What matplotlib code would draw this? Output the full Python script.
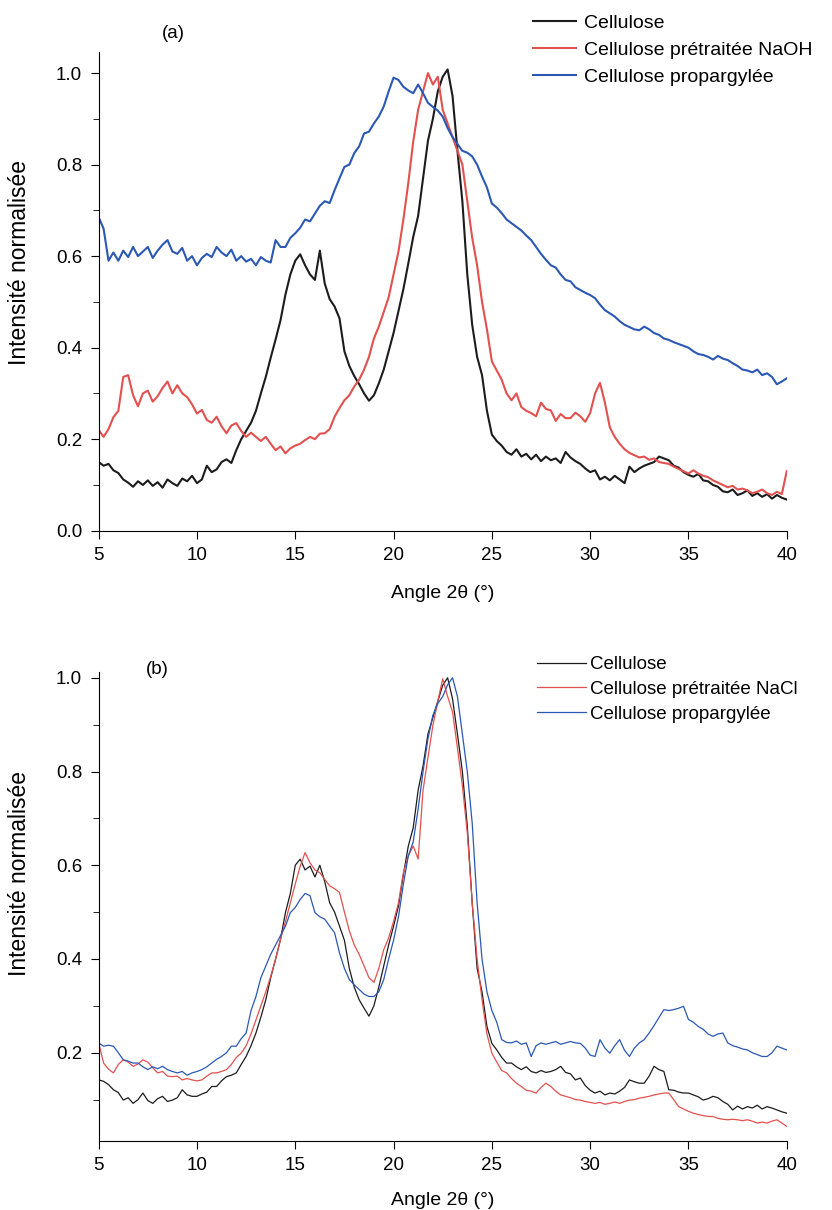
import numpy as np
import matplotlib
matplotlib.use("Agg")
import matplotlib.pyplot as plt
from matplotlib.ticker import MultipleLocator

plt.rcParams['font.family'] = ['Liberation Sans', 'DejaVu Sans']

# angle 2theta sampling (deg), one value every 0.25 deg
angle = np.arange(5, 40.001, 0.25)

# ---- panel (a): values, 4 per degree ----
a_cellulose = [
    0.150, 0.142, 0.146, 0.132,  0.126, 0.112, 0.105, 0.096,  0.108, 0.100, 0.110, 0.098,
    0.106, 0.094, 0.112, 0.104,  0.098, 0.114, 0.108, 0.120,  0.104, 0.112, 0.142, 0.128,
    0.134, 0.150, 0.156, 0.148,  0.176, 0.200, 0.218, 0.236,  0.262, 0.300, 0.336, 0.378,
    0.418, 0.460, 0.516, 0.560,  0.590, 0.604, 0.580, 0.560,  0.548, 0.612, 0.540, 0.506,
    0.490, 0.464, 0.392, 0.360,  0.338, 0.320, 0.300, 0.284,  0.296, 0.322, 0.352, 0.392,
    0.432, 0.480, 0.528, 0.584,  0.642, 0.688, 0.770, 0.852,  0.900, 0.960, 0.992, 1.008,
    0.950, 0.830, 0.720, 0.560,  0.450, 0.380, 0.340, 0.262,  0.210, 0.196, 0.186, 0.172,
    0.166, 0.178, 0.162, 0.168,  0.156, 0.166, 0.152, 0.162,  0.154, 0.158, 0.148, 0.172,
    0.160, 0.152, 0.146, 0.136,  0.128, 0.132, 0.112, 0.118,  0.110, 0.120, 0.112, 0.104,
    0.140, 0.128, 0.136, 0.142,  0.146, 0.150, 0.162, 0.158,  0.154, 0.142, 0.138, 0.128,
    0.122, 0.118, 0.124, 0.110,  0.108, 0.100, 0.096, 0.086,  0.084, 0.090, 0.078, 0.082,
    0.088, 0.076, 0.082, 0.074,  0.080, 0.070, 0.078, 0.072,
    0.068]
a_naoh = [
    0.220, 0.205, 0.222, 0.248,  0.262, 0.336, 0.340, 0.296,  0.272, 0.300, 0.306, 0.282,
    0.294, 0.312, 0.326, 0.300,  0.318, 0.300, 0.292, 0.276,  0.256, 0.264, 0.242, 0.236,
    0.249, 0.228, 0.213, 0.230,  0.235, 0.218, 0.205, 0.214,  0.205, 0.196, 0.205, 0.190,
    0.176, 0.184, 0.169, 0.180,  0.186, 0.190, 0.198, 0.205,  0.200, 0.212, 0.213, 0.222,
    0.249, 0.268, 0.285, 0.296,  0.315, 0.330, 0.352, 0.380,  0.420, 0.446, 0.478, 0.510,
    0.560, 0.610, 0.680, 0.760,  0.850, 0.920, 0.960, 1.000,  0.975, 0.992, 0.920, 0.890,
    0.860, 0.830, 0.800, 0.720,  0.640, 0.580, 0.500, 0.440,  0.370, 0.350, 0.330, 0.300,
    0.285, 0.300, 0.270, 0.262,  0.257, 0.250, 0.280, 0.266,  0.263, 0.240, 0.255, 0.246,
    0.246, 0.258, 0.250, 0.238,  0.257, 0.300, 0.323, 0.280,  0.226, 0.205, 0.190, 0.178,
    0.170, 0.165, 0.160, 0.162,  0.155, 0.158, 0.150, 0.148,  0.146, 0.140, 0.135, 0.130,
    0.125, 0.132, 0.125, 0.120,  0.117, 0.110, 0.105, 0.100,  0.095, 0.098, 0.090, 0.092,
    0.088, 0.082, 0.085, 0.090,  0.082, 0.078, 0.085, 0.080,
    0.130]
a_propargyl = [
    0.685, 0.660, 0.590, 0.608,  0.590, 0.612, 0.598, 0.620,  0.600, 0.610, 0.620, 0.596,
    0.612, 0.625, 0.635, 0.610,  0.605, 0.618, 0.590, 0.600,  0.580, 0.596, 0.605, 0.598,
    0.620, 0.608, 0.600, 0.614,  0.590, 0.600, 0.588, 0.594,  0.580, 0.598, 0.590, 0.586,
    0.635, 0.620, 0.620, 0.640,  0.650, 0.662, 0.680, 0.676,  0.693, 0.710, 0.720, 0.716,
    0.744, 0.770, 0.795, 0.800,  0.825, 0.840, 0.868, 0.872,  0.890, 0.905, 0.927, 0.960,
    0.990, 0.985, 0.970, 0.962,  0.956, 0.975, 0.956, 0.935,  0.926, 0.918, 0.905, 0.880,
    0.860, 0.845, 0.830, 0.826,  0.818, 0.800, 0.774, 0.750,  0.715, 0.706, 0.694, 0.680,
    0.672, 0.664, 0.656, 0.645,  0.635, 0.620, 0.605, 0.592,  0.580, 0.575, 0.560, 0.548,
    0.545, 0.532, 0.526, 0.520,  0.515, 0.508, 0.494, 0.482,  0.475, 0.468, 0.458, 0.450,
    0.445, 0.440, 0.438, 0.446,  0.440, 0.432, 0.428, 0.420,  0.417, 0.412, 0.408, 0.404,
    0.400, 0.392, 0.386, 0.384,  0.380, 0.374, 0.382, 0.376,  0.373, 0.366, 0.360, 0.352,
    0.350, 0.346, 0.352, 0.340,  0.344, 0.336, 0.320, 0.326,
    0.333]

# ---- panel (b) ----
b_cellulose = [
    0.142, 0.139, 0.132, 0.121,  0.115, 0.099, 0.104, 0.092,  0.100, 0.114, 0.098, 0.092,
    0.102, 0.107, 0.096, 0.099,  0.104, 0.121, 0.110, 0.107,  0.107, 0.112, 0.116, 0.128,
    0.128, 0.140, 0.149, 0.152,  0.157, 0.175, 0.192, 0.215,  0.242, 0.276, 0.313, 0.360,
    0.400, 0.442, 0.499, 0.540,  0.600, 0.613, 0.590, 0.598,  0.575, 0.600, 0.565, 0.520,
    0.500, 0.470, 0.440, 0.380,  0.340, 0.313, 0.295, 0.278,  0.300, 0.340, 0.385, 0.430,
    0.470, 0.513, 0.580, 0.641,  0.680, 0.760, 0.812, 0.880,  0.915, 0.950, 0.984, 1.000,
    0.955, 0.880, 0.800, 0.684,  0.520, 0.380, 0.330, 0.256,  0.220, 0.206, 0.190, 0.178,
    0.178, 0.170, 0.164, 0.170,  0.160, 0.157, 0.162, 0.158,  0.160, 0.164, 0.171, 0.158,
    0.155, 0.142, 0.146, 0.130,  0.120, 0.114, 0.118, 0.110,  0.114, 0.112, 0.118, 0.126,
    0.142, 0.138, 0.135, 0.135,  0.150, 0.171, 0.164, 0.160,  0.121, 0.120, 0.116, 0.114,
    0.114, 0.110, 0.106, 0.099,  0.102, 0.107, 0.104, 0.096,  0.090, 0.078, 0.086, 0.080,
    0.085, 0.082, 0.088, 0.080,  0.085, 0.082, 0.078, 0.074,
    0.071]
b_nacl = [
    0.221, 0.178, 0.165, 0.157,  0.175, 0.185, 0.180, 0.171,  0.176, 0.185, 0.180, 0.168,
    0.157, 0.160, 0.150, 0.149,  0.150, 0.142, 0.145, 0.142,  0.140, 0.142, 0.150, 0.157,
    0.157, 0.160, 0.164, 0.175,  0.190, 0.199, 0.215, 0.240,  0.270, 0.300, 0.330, 0.363,
    0.400, 0.442, 0.480, 0.520,  0.560, 0.598, 0.627, 0.605,  0.590, 0.584, 0.570, 0.556,
    0.550, 0.542, 0.500, 0.460,  0.430, 0.410, 0.385, 0.360,  0.350, 0.380, 0.420, 0.445,
    0.480, 0.520, 0.584, 0.620,  0.641, 0.613, 0.760, 0.830,  0.898, 0.950, 0.998, 0.960,
    0.927, 0.850, 0.770, 0.670,  0.520, 0.400, 0.313, 0.240,  0.199, 0.180, 0.162, 0.157,
    0.145, 0.135, 0.128, 0.120,  0.118, 0.114, 0.126, 0.135,  0.128, 0.118, 0.110, 0.107,
    0.104, 0.100, 0.099, 0.096,  0.094, 0.092, 0.094, 0.090,  0.092, 0.095, 0.092, 0.096,
    0.099, 0.100, 0.103, 0.105,  0.107, 0.110, 0.112, 0.114,  0.114, 0.100, 0.085, 0.080,
    0.075, 0.071, 0.068, 0.066,  0.064, 0.064, 0.060, 0.058,  0.057, 0.058, 0.057, 0.055,
    0.057, 0.054, 0.050, 0.052,  0.050, 0.054, 0.057, 0.050,
    0.043]
b_propargyl = [
    0.221, 0.214, 0.216, 0.214,  0.200, 0.185, 0.182, 0.178,  0.178, 0.170, 0.164, 0.170,
    0.166, 0.171, 0.164, 0.160,  0.157, 0.160, 0.152, 0.157,  0.160, 0.164, 0.170, 0.178,
    0.186, 0.192, 0.200, 0.214,  0.214, 0.230, 0.242, 0.290,  0.320, 0.360, 0.385, 0.410,
    0.430, 0.450, 0.470, 0.499,  0.510, 0.527, 0.540, 0.535,  0.499, 0.490, 0.485, 0.470,
    0.456, 0.413, 0.380, 0.356,  0.345, 0.335, 0.325, 0.320,  0.320, 0.330, 0.356, 0.400,
    0.440, 0.490, 0.560, 0.620,  0.650, 0.720, 0.800, 0.870,  0.920, 0.945, 0.960, 0.985,
    1.000, 0.960, 0.880, 0.800,  0.690, 0.520, 0.400, 0.330,  0.290, 0.265, 0.228, 0.222,
    0.221, 0.225, 0.218, 0.221,  0.192, 0.215, 0.221, 0.218,  0.221, 0.224, 0.218, 0.221,
    0.224, 0.221, 0.220, 0.210,  0.195, 0.192, 0.228, 0.210,  0.199, 0.215, 0.228, 0.205,
    0.192, 0.210, 0.221, 0.228,  0.242, 0.258, 0.275, 0.292,  0.290, 0.292, 0.295, 0.299,
    0.271, 0.265, 0.256, 0.250,  0.240, 0.235, 0.240, 0.242,  0.221, 0.215, 0.212, 0.208,
    0.206, 0.200, 0.196, 0.192,  0.192, 0.200, 0.214, 0.210,
    0.206]

labels_a = ['Cellulose', 'Cellulose prétraitée NaOH', 'Cellulose propargylée']
labels_b = ['Cellulose', 'Cellulose prétraitée NaCl', 'Cellulose propargylée']
colors = ['#1c1c1c', '#e2514f', '#2a58b4']


def style_axes(ax, ylim, xpad):
    ax.set_xlim(5, 40)
    ax.set_ylim(*ylim)
    ax.spines['top'].set_visible(False)
    ax.spines['right'].set_visible(False)
    ax.xaxis.set_major_locator(MultipleLocator(5))
    ax.yaxis.set_major_locator(MultipleLocator(0.2))
    ax.yaxis.set_minor_locator(MultipleLocator(0.1))
    ax.tick_params(axis='both', which='major', direction='out', length=6, labelsize=13.5)
    ax.tick_params(axis='x', pad=6)
    ax.tick_params(axis='y', pad=6)
    ax.tick_params(axis='y', which='minor', direction='out', length=4)
    ax.yaxis.set_major_formatter(matplotlib.ticker.FormatStrFormatter('%.1f'))
    ax.set_xlabel('Angle 2θ (°)', fontsize=14, labelpad=xpad)
    ax.set_ylabel('Intensité normalisée', fontsize=16.5)


fig = plt.figure(figsize=(8.32, 12.10), dpi=100)

ax_a = fig.add_axes([0.1186, 0.5614, 0.827, 0.3956])
for y, c, lab in zip([a_cellulose, a_naoh, a_propargyl], colors, labels_a):
    ax_a.plot(angle, y, color=c, lw=1.5, label=lab)
style_axes(ax_a, (0, 1.046), 15)
ax_a.yaxis.set_label_coords(-0.098, 0.56)
fig.text(173 / 832, 1 - 33 / 1210, '(a)', fontsize=13.5, ha='center', va='center')
fig.legend(*ax_a.get_legend_handles_labels(), loc='upper left',
           bbox_to_anchor=(533 / 832, 1 - 14 / 1210), frameon=False, fontsize=14,
           handlelength=2.2, handletextpad=0.4, borderpad=0, borderaxespad=0,
           labelspacing=0.48)

ax_b = fig.add_axes([0.1186, 0.0573, 0.827, 0.3876])
for y, c, lab in zip([b_cellulose, b_nacl, b_propargyl], colors, labels_b):
    ax_b.plot(angle, y, color=c, lw=0.9, label=lab)
style_axes(ax_b, (0.0124, 1.013), 13)
ax_b.yaxis.set_label_coords(-0.098, 0.57)
fig.text(157 / 832, 1 - 669 / 1210, '(b)', fontsize=13.5, ha='center', va='center')
fig.legend(*ax_b.get_legend_handles_labels(), loc='upper left',
           bbox_to_anchor=(537 / 832, 1 - 656 / 1210), frameon=False, fontsize=13.5,
           handlelength=2.6, handletextpad=0.25, borderpad=0, borderaxespad=0,
           labelspacing=0.41)

fig.savefig('out.png', dpi=100)
